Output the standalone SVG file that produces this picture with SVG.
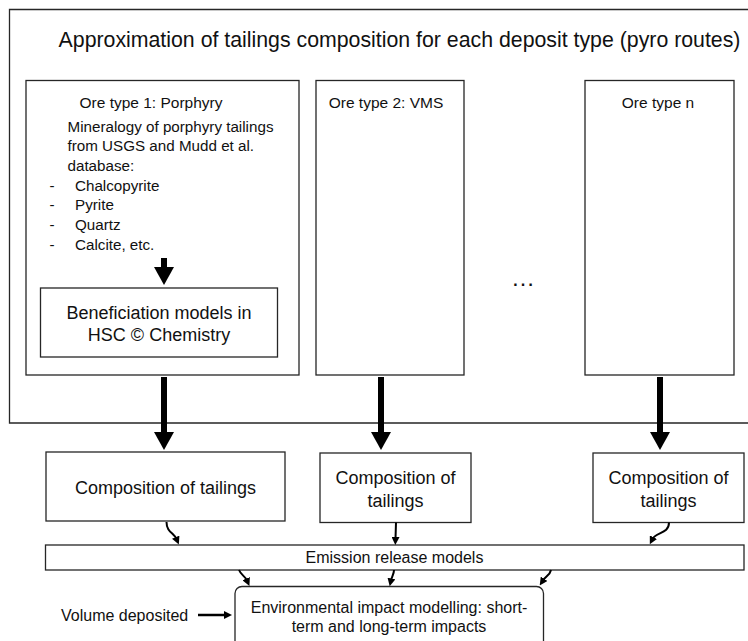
<svg xmlns="http://www.w3.org/2000/svg" width="748" height="641" viewBox="0 0 748 641">
  <style>
    .box { fill: #ffffff; stroke: #262626; stroke-width: 1.3; }
    .frame { fill: none; stroke: #262626; stroke-width: 1.3; }
    text { font-family: "Liberation Sans", Arial, sans-serif; fill: #111111; }
    .title { font-size: 21.3px; text-anchor: middle; }
    .lbl { font-size: 15.5px; text-anchor: middle; }
    .body { font-size: 15.2px; }
    .big { font-size: 18px; text-anchor: middle; }
    .mid { font-size: 16px; text-anchor: middle; }
    .thick { stroke: #000000; stroke-width: 6; fill: none; }
    .thin { stroke: #000000; stroke-width: 2; fill: none; }
  </style>
  <defs>
    <marker id="bighead" markerUnits="userSpaceOnUse" viewBox="0 0 18 20" markerWidth="18" markerHeight="20" refX="0" refY="10" orient="auto">
      <path d="M0,0 L18,10 L0,20 Z" fill="#000000"/>
    </marker>
    <marker id="smallhead" markerUnits="userSpaceOnUse" viewBox="0 0 8 8" markerWidth="8" markerHeight="8" refX="2" refY="4" orient="auto">
      <path d="M0,0 L8,4 L0,8 Z" fill="#000000"/>
    </marker>
  </defs>

  <rect width="748" height="641" fill="#ffffff"/>

  <!-- outer frame: pyro route approximation (open to the right) -->
  <g id="frame">
    <path class="frame" d="M760,9.5 H9.5 V423 H760"/>
    <text class="title" x="399.5" y="47">Approximation of tailings composition for each deposit type (pyro routes)</text>
  </g>

  <g id="ore1">
    <rect class="box" x="26" y="80.5" width="273" height="294.5"/>
    <text class="lbl" x="151" y="108">Ore type 1: Porphyry</text>
    <text class="body" x="67.5" y="131.5">Mineralogy of porphyry tailings</text>
    <text class="body" x="67.5" y="151.2">from USGS and Mudd et al.</text>
    <text class="body" x="67.5" y="170.9">database:</text>
    <text class="body" x="49.5" y="190.6">-</text>
    <text class="body" x="75" y="190.6">Chalcopyrite</text>
    <text class="body" x="49.5" y="210.3">-</text>
    <text class="body" x="75" y="210.3">Pyrite</text>
    <text class="body" x="49.5" y="230">-</text>
    <text class="body" x="75" y="230">Quartz</text>
    <text class="body" x="49.5" y="249.7">-</text>
    <text class="body" x="75" y="249.7">Calcite, etc.</text>
  </g>

  <g id="beneficiation">
    <rect class="box" x="40.5" y="288" width="237" height="69"/>
    <text class="big" x="159" y="318.5">Beneficiation models in</text>
    <text class="big" x="159" y="341">HSC © Chemistry</text>
  </g>

  <g id="ore2">
    <rect class="box" x="316" y="80.5" width="148" height="294.5"/>
    <text class="lbl" x="386" y="108">Ore type 2: VMS</text>
  </g>

  <g id="ellipsis">
    <text class="mid" x="523" y="286" style="font-size:24px">…</text>
  </g>

  <g id="oren">
    <rect class="box" x="585" y="80.5" width="149" height="294.5"/>
    <text class="lbl" x="658" y="108">Ore type n</text>
  </g>

  <g id="comp1">
    <rect class="box" x="46" y="452" width="239" height="69"/>
    <text class="big" x="165.5" y="493.5">Composition of tailings</text>
  </g>

  <g id="comp2">
    <rect class="box" x="320" y="453" width="151" height="69.5"/>
    <text class="big" x="395.5" y="484">Composition of</text>
    <text class="big" x="395.5" y="506.5">tailings</text>
  </g>

  <g id="comp3">
    <rect class="box" x="593" y="453" width="151" height="69.5"/>
    <text class="big" x="668.5" y="484">Composition of</text>
    <text class="big" x="668.5" y="506.5">tailings</text>
  </g>

  <g id="emission">
    <rect class="box" x="45.5" y="545" width="698.5" height="25"/>
    <text class="mid" x="394.5" y="563">Emission release models</text>
  </g>

  <g id="impact">
    <rect class="box" x="235" y="586.5" width="308.5" height="80" rx="7"/>
    <text class="mid" x="389" y="613">Environmental impact modelling: short-</text>
    <text class="mid" x="389" y="631.5">term and long-term impacts</text>
  </g>

  <g id="volume">
    <text style="font-size:16px" x="61" y="620.5">Volume deposited</text>
  </g>

  <g id="connectors">
    <!-- feed into the beneficiation model -->
    <line class="thick" x1="164" y1="258" x2="164" y2="267" marker-end="url(#bighead)"/>
    <!-- ore type boxes to tailings composition -->
    <line class="thick" x1="164" y1="377" x2="164" y2="432" marker-end="url(#bighead)"/>
    <line class="thick" x1="381" y1="377" x2="381" y2="432" marker-end="url(#bighead)"/>
    <line class="thick" x1="660" y1="377" x2="660" y2="432" marker-end="url(#bighead)"/>
    <!-- tailings composition to emission models -->
    <path class="thin" d="M166.5,522 C166.5,532 174,533 176.5,539" marker-end="url(#smallhead)"/>
    <path class="thin" d="M396,522.5 L395.5,539" marker-end="url(#smallhead)"/>
    <path class="thin" d="M669,522.5 C669,534 656,532 652.5,539" marker-end="url(#smallhead)"/>
    <!-- emission models to impact modelling -->
    <path class="thin" d="M239,570 C241,575 245,576 247,580.5" marker-end="url(#smallhead)"/>
    <path class="thin" d="M394,570 C394,574 392,576 391,580.5" marker-end="url(#smallhead)"/>
    <path class="thin" d="M551,570 C550,575 546,576 543,580.5" marker-end="url(#smallhead)"/>
    <!-- deposited volume input -->
    <line x1="198" y1="615" x2="226" y2="615" stroke="#000000" stroke-width="2.5" marker-end="url(#smallhead)"/>
  </g>
</svg>
